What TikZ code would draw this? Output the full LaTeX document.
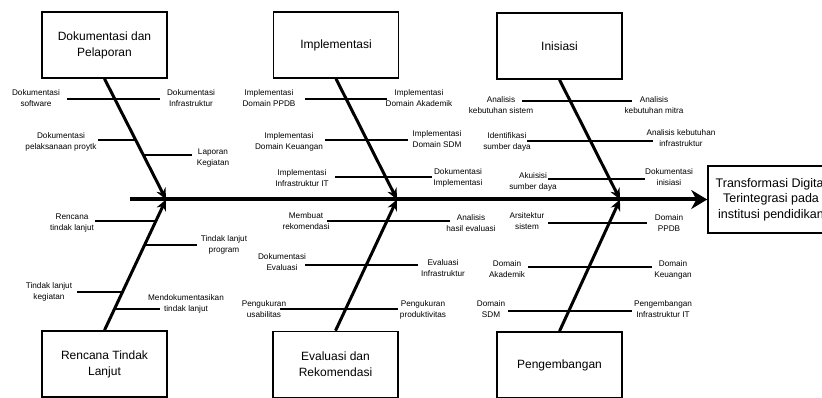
\documentclass[tikz,border=0pt]{standalone}
\usepackage{fontspec}
\setmainfont{Liberation Sans}
\usetikzlibrary{arrows.meta, positioning}

\begin{document}
\begin{tikzpicture}[
        x=1pt, y=-1pt,
        cause/.style={rectangle, draw, line width=1.6pt, minimum width=125pt, minimum height=66pt, align=center, font=\fontsize{12}{16}\selectfont},
        effect/.style={rectangle, draw, line width=1.6pt, minimum width=126pt, minimum height=67pt, align=center, font=\fontsize{12.5}{15.5}\selectfont},
        sub/.style={inner sep=0pt, align=center, font=\fontsize{8.2}{11}\selectfont},
        twig/.style={line width=1.4pt},
        bone/.style={line width=3pt, -{Stealth[length=11pt, width=10pt]}},
        spine/.style={line width=4pt, -{Stealth[length=16pt, width=19pt]}}
    ]
        \useasboundingbox (0,0) rectangle (822,398);

        \node [cause] (doc) at (104.5,45) {Dokumentasi dan\\Pelaporan};
        \node [cause] (impl) at (336,45) {Implementasi};
        \node [cause] (inis) at (559.5,46) {Inisiasi};
        \node [cause] (rtl) at (104.5,364) {Rencana Tindak\\Lanjut};
        \node [cause] (eval) at (335.5,364.5) {Evaluasi dan\\Rekomendasi};
        \node [cause] (peng) at (559.5,365) {Pengembangan};
        \node [effect] (goal) at (771,199.5) {Transformasi Digital\\Terintegrasi pada\\institusi pendidikan};

        \coordinate (tail) at (130,199.5);
        \coordinate (s1) at (166,199.5);
        \coordinate (s2) at (397,199.5);
        \coordinate (s3) at (620,199.5);

        % twig ends
        \coordinate (d1a) at (67,99);   \coordinate (d1b) at (160,99);
        \coordinate (d2a) at (98,140);  \coordinate (d2b) at (136,140);
        \coordinate (d3a) at (143,155); \coordinate (d3b) at (192,155);
        \coordinate (i1a) at (305,99);  \coordinate (i1b) at (387,99);
        \coordinate (i2a) at (325,140); \coordinate (i2b) at (408,140);
        \coordinate (i3a) at (335,177); \coordinate (i3b) at (432,177);
        \coordinate (n1a) at (522,101); \coordinate (n1b) at (632,101);
        \coordinate (n2a) at (527,141); \coordinate (n2b) at (653,141);
        \coordinate (n3a) at (548,179); \coordinate (n3b) at (645,179);
        \coordinate (r1a) at (95,221);  \coordinate (r1b) at (156,221);
        \coordinate (r2a) at (145,245); \coordinate (r2b) at (197,245);
        \coordinate (r3a) at (77,292);  \coordinate (r3b) at (123,292);
        \coordinate (r4a) at (115,309); \coordinate (r4b) at (160,309);
        \coordinate (e1a) at (327,221); \coordinate (e1b) at (450,221);
        \coordinate (e2a) at (305,265); \coordinate (e2b) at (418,265);
        \coordinate (e3a) at (280,309); \coordinate (e3b) at (398,309);
        \coordinate (p1a) at (548,223); \coordinate (p1b) at (647,223);
        \coordinate (p2a) at (528,267); \coordinate (p2b) at (652,267);
        \coordinate (p3a) at (508,311); \coordinate (p3b) at (632,311);

        \node [sub] (d1l) at (36,98) {Dokumentasi\\software};
        \node [sub] (d1r) at (191,98) {Dokumentasi\\Infrastruktur};
        \node [sub] (d2l) at (61,142) {Dokumentasi\\pelaksanaan proytk};
        \node [sub] (d3r) at (213,158) {Laporan\\Kegiatan};
        \node [sub] (i1l) at (269,98) {Implementasi\\Domain PPDB};
        \node [sub] (i1r) at (419,98) {Implementasi\\Domain Akademik};
        \node [sub] (i2l) at (289,142) {Implementasi\\Domain Keuangan};
        \node [sub] (i2r) at (437,139) {Implementasi\\Domain SDM};
        \node [sub] (i3l) at (302,178) {Implementasi\\Infrastruktur IT};
        \node [sub] (i3r) at (458,178) {Dokumentasi\\Implementasi};
        \node [sub] (n1l) at (501,105) {Analisis\\kebutuhan sistem};
        \node [sub] (n1r) at (654,105.5) {Analisis\\kebutuhan mitra};
        \node [sub] (n2l) at (507,142) {Identifikasi\\sumber daya};
        \node [sub] (n2r) at (681,138) {Analisis kebutuhan\\infrastruktur};
        \node [sub] (n3l) at (533,182) {Akuisisi\\sumber daya};
        \node [sub] (n3r) at (669,177.5) {Dokumentasi\\inisiasi};
        \node [sub] (r1l) at (72,223) {Rencana\\tindak lanjut};
        \node [sub] (r2r) at (224,244.5) {Tindak lanjut\\program};
        \node [sub] (r3l) at (49,292) {Tindak lanjut\\kegiatan};
        \node [sub] (r4r) at (186,303.5) {Mendokumentasikan\\tindak lanjut};
        \node [sub] (e1l) at (306,221.5) {Membuat\\rekomendasi};
        \node [sub] (e1r) at (471,223) {Analisis\\hasil evaluasi};
        \node [sub] (e2l) at (282,262.5) {Dokumentasi\\Evaluasi};
        \node [sub] (e2r) at (443,268.5) {Evaluasi\\Infrastruktur};
        \node [sub] (e3l) at (264,309.5) {Pengukuran\\usabilitas};
        \node [sub] (e3r) at (423,309.5) {Pengukuran\\produktivitas};
        \node [sub] (p1l) at (527,221.5) {Arsitektur\\sistem};
        \node [sub] (p1r) at (669,223) {Domain\\PPDB};
        \node [sub] (p2l) at (507,269.5) {Domain\\Akademik};
        \node [sub] (p2r) at (673,269.5) {Domain\\Keuangan};
        \node [sub] (p3l) at (491,309) {Domain\\SDM};
        \node [sub] (p3r) at (663,309) {Pengembangan\\Infrastruktur IT};

        \foreach \t in {d1,d2,d3,i1,i2,i3,n1,n2,n3,r1,r2,r3,r4,e1,e2,e3,p1,p2,p3}
            \draw [twig] (\t a) -- (\t b);

        \draw [spine] (tail) -- (goal.west);
        \draw [bone] (doc.south) -- (s1);
        \draw [bone] (impl.south) -- (s2);
        \draw [bone] (inis.south) -- (s3);
        \draw [bone] (rtl.north) -- (s1);
        \draw [bone] (eval.north) -- (s2);
        \draw [bone] (peng.north) -- (s3);
    \end{tikzpicture}
\end{document}
